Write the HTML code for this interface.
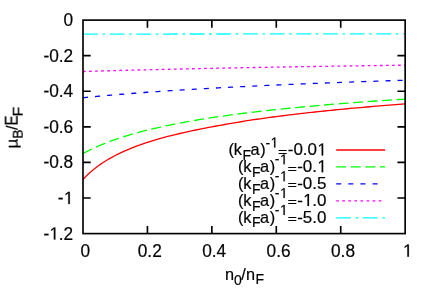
<!DOCTYPE html>
<html><head><meta charset="utf-8"><title>plot</title>
<style>html,body{margin:0;padding:0;background:#fff;}svg{display:block;}text{font-family:"Liberation Sans",sans-serif;fill:#000;font-kerning:none;white-space:pre;}</style></head>
<body>
<svg width="436" height="305" viewBox="0 0 436 305">
<rect x="0" y="0" width="436" height="305" fill="#fff"/>
<path d="M83.00,179.59 L83.81,178.69 L84.61,177.82 L85.42,176.98 L86.22,176.15 L87.03,175.35 L87.83,174.57 L88.64,173.80 L89.44,173.06 L90.25,172.33 L91.05,171.62 L91.86,170.92 L92.66,170.24 L93.47,169.57 L94.28,168.92 L95.08,168.28 L95.89,167.65 L96.69,167.04 L97.50,166.44 L98.30,165.85 L99.11,165.27 L99.91,164.70 L100.72,164.14 L101.52,163.60 L102.33,163.06 L103.13,162.53 L103.94,162.01 L104.75,161.50 L105.55,161.00 L106.36,160.50 L107.16,160.01 L107.97,159.54 L108.77,159.06 L109.58,158.60 L110.38,158.14 L111.19,157.69 L111.99,157.25 L112.80,156.81 L113.60,156.38 L114.41,155.96 L115.22,155.54 L118.44,153.92 L121.66,152.38 L124.88,150.92 L128.10,149.53 L131.32,148.21 L134.54,146.94 L137.77,145.73 L140.99,144.56 L144.21,143.44 L147.43,142.37 L150.65,141.33 L153.87,140.34 L157.09,139.38 L160.32,138.45 L163.54,137.55 L166.76,136.69 L169.98,135.85 L173.20,135.04 L176.42,134.26 L179.65,133.50 L182.87,132.76 L186.09,132.04 L189.31,131.34 L192.53,130.65 L195.75,129.99 L198.97,129.33 L202.20,128.69 L205.42,128.06 L208.64,127.44 L211.86,126.84 L215.08,126.24 L218.30,125.65 L221.52,125.07 L224.75,124.49 L227.97,123.93 L231.19,123.37 L234.41,122.82 L237.63,122.28 L240.85,121.75 L244.07,121.23 L247.30,120.72 L250.52,120.22 L253.74,119.73 L256.96,119.25 L260.18,118.78 L263.40,118.32 L266.63,117.87 L269.85,117.42 L273.07,116.99 L276.29,116.56 L279.51,116.15 L282.73,115.74 L285.95,115.33 L289.18,114.94 L292.40,114.55 L295.62,114.17 L298.84,113.79 L302.06,113.42 L305.28,113.06 L308.50,112.70 L311.73,112.34 L314.95,111.99 L318.17,111.65 L321.39,111.31 L324.61,110.98 L327.83,110.65 L331.06,110.32 L334.28,110.00 L337.50,109.68 L340.72,109.37 L343.94,109.06 L347.16,108.76 L350.38,108.46 L353.61,108.16 L356.83,107.87 L360.05,107.58 L363.27,107.29 L366.49,107.01 L369.71,106.73 L372.94,106.45 L376.16,106.17 L379.38,105.90 L382.60,105.64 L385.82,105.37 L389.04,105.11 L392.26,104.85 L395.49,104.60 L398.71,104.34 L401.93,104.09 L405.15,103.85" fill="none" stroke="#ff0000" stroke-width="1.30"/>
<path d="M83.00,153.54 L83.81,153.10 L84.61,152.67 L85.42,152.24 L86.22,151.82 L87.03,151.40 L87.83,150.99 L88.64,150.58 L89.44,150.18 L90.25,149.79 L91.05,149.40 L91.86,149.01 L92.66,148.63 L93.47,148.25 L94.28,147.88 L95.08,147.51 L95.89,147.15 L96.69,146.79 L97.50,146.43 L98.30,146.08 L99.11,145.74 L99.91,145.39 L100.72,145.05 L101.52,144.72 L102.33,144.39 L103.13,144.06 L103.94,143.73 L104.75,143.41 L105.55,143.10 L106.36,142.78 L107.16,142.47 L107.97,142.16 L108.77,141.86 L109.58,141.56 L110.38,141.26 L111.19,140.96 L111.99,140.67 L112.80,140.38 L113.60,140.09 L114.41,139.81 L115.22,139.53 L118.44,138.43 L121.66,137.37 L124.88,136.35 L128.10,135.36 L131.32,134.41 L134.54,133.49 L137.77,132.60 L140.99,131.74 L144.21,130.91 L147.43,130.10 L150.65,129.31 L153.87,128.55 L157.09,127.80 L160.32,127.08 L163.54,126.38 L166.76,125.70 L169.98,125.03 L173.20,124.38 L176.42,123.75 L179.65,123.13 L182.87,122.53 L186.09,121.94 L189.31,121.37 L192.53,120.81 L195.75,120.26 L198.97,119.72 L202.20,119.20 L205.42,118.68 L208.64,118.18 L211.86,117.69 L215.08,117.20 L218.30,116.73 L221.52,116.27 L224.75,115.81 L227.97,115.37 L231.19,114.93 L234.41,114.50 L237.63,114.08 L240.85,113.67 L244.07,113.26 L247.30,112.86 L250.52,112.47 L253.74,112.08 L256.96,111.70 L260.18,111.33 L263.40,110.96 L266.63,110.60 L269.85,110.25 L273.07,109.90 L276.29,109.56 L279.51,109.22 L282.73,108.89 L285.95,108.56 L289.18,108.24 L292.40,107.92 L295.62,107.60 L298.84,107.30 L302.06,106.99 L305.28,106.69 L308.50,106.40 L311.73,106.10 L314.95,105.82 L318.17,105.53 L321.39,105.25 L324.61,104.98 L327.83,104.70 L331.06,104.43 L334.28,104.17 L337.50,103.91 L340.72,103.65 L343.94,103.39 L347.16,103.14 L350.38,102.89 L353.61,102.64 L356.83,102.40 L360.05,102.16 L363.27,101.92 L366.49,101.69 L369.71,101.46 L372.94,101.23 L376.16,101.00 L379.38,100.78 L382.60,100.56 L385.82,100.34 L389.04,100.12 L392.26,99.91 L395.49,99.69 L398.71,99.49 L401.93,99.28 L405.15,99.07" fill="none" stroke="#00ff00" stroke-width="1.30" stroke-dasharray="10.00,4.55"/>
<path d="M83.00,97.75 L83.81,97.67 L84.61,97.58 L85.42,97.50 L86.22,97.42 L87.03,97.35 L87.83,97.27 L88.64,97.19 L89.44,97.11 L90.25,97.03 L91.05,96.95 L91.86,96.88 L92.66,96.80 L93.47,96.72 L94.28,96.65 L95.08,96.57 L95.89,96.50 L96.69,96.42 L97.50,96.35 L98.30,96.27 L99.11,96.20 L99.91,96.12 L100.72,96.05 L101.52,95.98 L102.33,95.90 L103.13,95.83 L103.94,95.76 L104.75,95.69 L105.55,95.61 L106.36,95.54 L107.16,95.47 L107.97,95.40 L108.77,95.33 L109.58,95.26 L110.38,95.19 L111.19,95.12 L111.99,95.05 L112.80,94.98 L113.60,94.92 L114.41,94.85 L115.22,94.78 L118.44,94.51 L121.66,94.25 L124.88,93.98 L128.10,93.73 L131.32,93.48 L134.54,93.23 L137.77,92.98 L140.99,92.74 L144.21,92.50 L147.43,92.27 L150.65,92.04 L153.87,91.81 L157.09,91.59 L160.32,91.37 L163.54,91.15 L166.76,90.94 L169.98,90.72 L173.20,90.51 L176.42,90.31 L179.65,90.11 L182.87,89.91 L186.09,89.71 L189.31,89.51 L192.53,89.32 L195.75,89.13 L198.97,88.94 L202.20,88.75 L205.42,88.57 L208.64,88.39 L211.86,88.21 L215.08,88.03 L218.30,87.86 L221.52,87.69 L224.75,87.51 L227.97,87.35 L231.19,87.18 L234.41,87.01 L237.63,86.85 L240.85,86.69 L244.07,86.53 L247.30,86.37 L250.52,86.22 L253.74,86.06 L256.96,85.91 L260.18,85.76 L263.40,85.61 L266.63,85.46 L269.85,85.31 L273.07,85.17 L276.29,85.02 L279.51,84.88 L282.73,84.74 L285.95,84.60 L289.18,84.46 L292.40,84.33 L295.62,84.19 L298.84,84.06 L302.06,83.92 L305.28,83.79 L308.50,83.66 L311.73,83.53 L314.95,83.41 L318.17,83.28 L321.39,83.15 L324.61,83.03 L327.83,82.91 L331.06,82.78 L334.28,82.66 L337.50,82.54 L340.72,82.42 L343.94,82.31 L347.16,82.19 L350.38,82.07 L353.61,81.96 L356.83,81.84 L360.05,81.73 L363.27,81.62 L366.49,81.51 L369.71,81.40 L372.94,81.29 L376.16,81.18 L379.38,81.07 L382.60,80.96 L385.82,80.86 L389.04,80.75 L392.26,80.65 L395.49,80.55 L398.71,80.44 L401.93,80.34 L405.15,80.24" fill="none" stroke="#0000ff" stroke-width="1.30" stroke-dasharray="5.00,7.12"/>
<path d="M83.00,71.53 L83.81,71.50 L84.61,71.48 L85.42,71.45 L86.22,71.43 L87.03,71.40 L87.83,71.38 L88.64,71.35 L89.44,71.33 L90.25,71.31 L91.05,71.28 L91.86,71.26 L92.66,71.23 L93.47,71.21 L94.28,71.19 L95.08,71.16 L95.89,71.14 L96.69,71.12 L97.50,71.09 L98.30,71.07 L99.11,71.05 L99.91,71.02 L100.72,71.00 L101.52,70.98 L102.33,70.95 L103.13,70.93 L103.94,70.91 L104.75,70.89 L105.55,70.86 L106.36,70.84 L107.16,70.82 L107.97,70.79 L108.77,70.77 L109.58,70.75 L110.38,70.73 L111.19,70.71 L111.99,70.68 L112.80,70.66 L113.60,70.64 L114.41,70.62 L115.22,70.59 L118.44,70.51 L121.66,70.42 L124.88,70.34 L128.10,70.25 L131.32,70.17 L134.54,70.08 L137.77,70.00 L140.99,69.92 L144.21,69.84 L147.43,69.76 L150.65,69.68 L153.87,69.61 L157.09,69.53 L160.32,69.45 L163.54,69.38 L166.76,69.30 L169.98,69.23 L173.20,69.16 L176.42,69.08 L179.65,69.01 L182.87,68.94 L186.09,68.87 L189.31,68.80 L192.53,68.73 L195.75,68.66 L198.97,68.59 L202.20,68.53 L205.42,68.46 L208.64,68.39 L211.86,68.33 L215.08,68.26 L218.30,68.20 L221.52,68.13 L224.75,68.07 L227.97,68.01 L231.19,67.94 L234.41,67.88 L237.63,67.82 L240.85,67.76 L244.07,67.70 L247.30,67.64 L250.52,67.58 L253.74,67.52 L256.96,67.46 L260.18,67.40 L263.40,67.35 L266.63,67.29 L269.85,67.23 L273.07,67.18 L276.29,67.12 L279.51,67.06 L282.73,67.01 L285.95,66.96 L289.18,66.90 L292.40,66.85 L295.62,66.79 L298.84,66.74 L302.06,66.69 L305.28,66.64 L308.50,66.58 L311.73,66.53 L314.95,66.48 L318.17,66.43 L321.39,66.38 L324.61,66.33 L327.83,66.28 L331.06,66.23 L334.28,66.18 L337.50,66.13 L340.72,66.08 L343.94,66.04 L347.16,65.99 L350.38,65.94 L353.61,65.89 L356.83,65.85 L360.05,65.80 L363.27,65.75 L366.49,65.71 L369.71,65.66 L372.94,65.62 L376.16,65.57 L379.38,65.53 L382.60,65.48 L385.82,65.44 L389.04,65.39 L392.26,65.35 L395.49,65.31 L398.71,65.26 L401.93,65.22 L405.15,65.18" fill="none" stroke="#ff00ff" stroke-width="1.30" stroke-dasharray="2.72,3.34"/>
<path d="M83.00,34.10 L83.81,34.10 L84.61,34.10 L85.42,34.10 L86.22,34.10 L87.03,34.10 L87.83,34.10 L88.64,34.10 L89.44,34.10 L90.25,34.10 L91.05,34.10 L91.86,34.09 L92.66,34.09 L93.47,34.09 L94.28,34.09 L95.08,34.09 L95.89,34.09 L96.69,34.09 L97.50,34.09 L98.30,34.09 L99.11,34.09 L99.91,34.09 L100.72,34.09 L101.52,34.09 L102.33,34.09 L103.13,34.08 L103.94,34.08 L104.75,34.08 L105.55,34.08 L106.36,34.08 L107.16,34.08 L107.97,34.08 L108.77,34.08 L109.58,34.08 L110.38,34.08 L111.19,34.08 L111.99,34.08 L112.80,34.08 L113.60,34.08 L114.41,34.07 L115.22,34.07 L118.44,34.07 L121.66,34.07 L124.88,34.07 L128.10,34.06 L131.32,34.06 L134.54,34.06 L137.77,34.05 L140.99,34.05 L144.21,34.05 L147.43,34.05 L150.65,34.04 L153.87,34.04 L157.09,34.04 L160.32,34.04 L163.54,34.03 L166.76,34.03 L169.98,34.03 L173.20,34.02 L176.42,34.02 L179.65,34.02 L182.87,34.02 L186.09,34.01 L189.31,34.01 L192.53,34.01 L195.75,34.00 L198.97,34.00 L202.20,34.00 L205.42,34.00 L208.64,33.99 L211.86,33.99 L215.08,33.99 L218.30,33.99 L221.52,33.98 L224.75,33.98 L227.97,33.98 L231.19,33.97 L234.41,33.97 L237.63,33.97 L240.85,33.97 L244.07,33.96 L247.30,33.96 L250.52,33.96 L253.74,33.96 L256.96,33.95 L260.18,33.95 L263.40,33.95 L266.63,33.94 L269.85,33.94 L273.07,33.94 L276.29,33.94 L279.51,33.93 L282.73,33.93 L285.95,33.93 L289.18,33.93 L292.40,33.92 L295.62,33.92 L298.84,33.92 L302.06,33.91 L305.28,33.91 L308.50,33.91 L311.73,33.91 L314.95,33.90 L318.17,33.90 L321.39,33.90 L324.61,33.90 L327.83,33.89 L331.06,33.89 L334.28,33.89 L337.50,33.88 L340.72,33.88 L343.94,33.88 L347.16,33.88 L350.38,33.87 L353.61,33.87 L356.83,33.87 L360.05,33.87 L363.27,33.86 L366.49,33.86 L369.71,33.86 L372.94,33.85 L376.16,33.85 L379.38,33.85 L382.60,33.85 L385.82,33.84 L389.04,33.84 L392.26,33.84 L395.49,33.84 L398.71,33.83 L401.93,33.83 L405.15,33.83" fill="none" stroke="#00ffff" stroke-width="1.30" stroke-dasharray="14.85,4.55,2.72,4.55"/>
<path d="M336.20,150.00 L385.10,150.00" fill="none" stroke="#ff0000" stroke-width="1.30"/>
<path d="M336.20,166.95 L385.10,166.95" fill="none" stroke="#00ff00" stroke-width="1.30" stroke-dasharray="10.00,4.55"/>
<path d="M336.20,183.90 L384.40,183.90" fill="none" stroke="#0000ff" stroke-width="1.30" stroke-dasharray="5.00,7.12"/>
<path d="M336.20,200.85 L384.40,200.85" fill="none" stroke="#ff00ff" stroke-width="1.30" stroke-dasharray="2.72,3.34"/>
<path d="M336.20,217.80 L385.10,217.80" fill="none" stroke="#00ffff" stroke-width="1.30" stroke-dasharray="14.85,4.55,2.72,4.55"/>
<rect x="83.00" y="20.10" width="322.15" height="213.50" fill="none" stroke="#000" stroke-width="1.65"/>
<path d="M147.43,233.60 V225.90 M147.43,20.10 V27.80 M211.86,233.60 V225.90 M211.86,20.10 V27.80 M276.29,233.60 V225.90 M276.29,20.10 V27.80 M340.72,233.60 V225.90 M340.72,20.10 V27.80 M83.00,55.68 H90.70 M405.15,55.68 H397.45 M83.00,91.27 H90.70 M405.15,91.27 H397.45 M83.00,126.85 H90.70 M405.15,126.85 H397.45 M83.00,162.43 H90.70 M405.15,162.43 H397.45 M83.00,198.02 H90.70 M405.15,198.02 H397.45" fill="none" stroke="#000" stroke-width="1.65"/>
<g style="opacity:0.999" fill="#000" stroke="#000" stroke-width="0.20">
<text transform="translate(63.58,26.10) scale(1.0000,1.0200)" font-size="17.30">0</text>
<text transform="translate(43.39,61.68) scale(1.0000,1.0200)" font-size="17.30">-0.2</text>
<text transform="translate(43.39,97.27) scale(1.0000,1.0200)" font-size="17.30">-0.4</text>
<text transform="translate(43.39,132.85) scale(1.0000,1.0200)" font-size="17.30">-0.6</text>
<text transform="translate(43.39,168.43) scale(1.0000,1.0200)" font-size="17.30">-0.8</text>
<text transform="translate(57.82,204.02) scale(1.0000,1.0200)" font-size="17.30">-</text>
<path d="M515 0V1237L197 1010V1180L530 1409H696V0Z" vector-effect="non-scaling-stroke" transform="translate(63.92,204.02) scale(0.00845,-0.00862)"/>
<text transform="translate(43.39,239.60) scale(1.0000,1.0200)" font-size="17.30">-</text>
<path d="M515 0V1237L197 1010V1180L530 1409H696V0Z" vector-effect="non-scaling-stroke" transform="translate(49.50,239.60) scale(0.00845,-0.00862)"/>
<text transform="translate(58.77,239.60) scale(1.0000,1.0200)" font-size="17.30">.2</text>
<text transform="translate(80.49,256.70) scale(1.0000,1.0200)" font-size="17.30">0</text>
<text transform="translate(137.71,256.70) scale(1.0000,1.0200)" font-size="17.30">0.2</text>
<text transform="translate(202.14,256.70) scale(1.0000,1.0200)" font-size="17.30">0.4</text>
<text transform="translate(266.57,256.70) scale(1.0000,1.0200)" font-size="17.30">0.6</text>
<text transform="translate(331.00,256.70) scale(1.0000,1.0200)" font-size="17.30">0.8</text>
<path d="M515 0V1237L197 1010V1180L530 1409H696V0Z" vector-effect="non-scaling-stroke" transform="translate(402.99,256.70) scale(0.00845,-0.00862)"/>
<text transform="translate(225.02,279.90) scale(0.9600,1.0000)" font-size="17.00">n</text>
<text transform="translate(234.05,285.00) scale(1.0000,1.0400)" font-size="14.00">0</text>
<text transform="translate(241.20,279.90) scale(0.9600,1.0000)" font-size="17.00">/</text>
<text transform="translate(246.12,279.90) scale(0.9600,1.0000)" font-size="17.00">n</text>
<text transform="translate(255.55,284.30) scale(1.0000,1.0600)" font-size="14.00">F</text>
<g transform="translate(17.7,0) rotate(-90)">
<text transform="translate(-148.46,0.00) scale(1.0000,1.0000)" font-size="17.00">µ</text>
<text transform="translate(-138.65,4.70) scale(1.0000,1.0600)" font-size="14.00">B</text>
<text transform="translate(-130.00,0.00) scale(0.9600,1.0000)" font-size="17.00">/</text>
<text transform="translate(-125.44,0.00) scale(0.8900,1.0700)" font-size="17.00">E</text>
<text transform="translate(-116.42,4.70) scale(1.1500,1.0600)" font-size="14.00">F</text>
</g>
<text transform="translate(228.49,155.40) scale(0.9600,1.0000)" font-size="17.00">(</text>
<text transform="translate(233.80,155.40) scale(0.9600,1.0000)" font-size="17.00">k</text>
<text transform="translate(242.55,160.00) scale(1.0000,1.0600)" font-size="14.00">F</text>
<text transform="translate(250.51,155.40) scale(0.9600,1.0000)" font-size="17.00">a</text>
<text transform="translate(260.30,155.40) scale(0.9600,1.0000)" font-size="17.00">)</text>
<text transform="translate(265.38,147.50) scale(1.0000,1.0000)" font-size="14.00">-</text>
<path d="M515 0V1237L197 1010V1180L530 1409H696V0Z" vector-effect="non-scaling-stroke" transform="translate(270.58,147.50) scale(0.00684,-0.00704)"/>
<text transform="translate(278.11,155.75) scale(0.9500,0.7200)" font-size="17.00">=</text>
<text transform="translate(287.75,155.40) scale(1.0000,1.0200)" font-size="17.00">-0.0</text>
<path d="M515 0V1237L197 1010V1180L530 1409H696V0Z" vector-effect="non-scaling-stroke" transform="translate(317.39,155.40) scale(0.00830,-0.00847)"/>
<text transform="translate(237.89,172.25) scale(0.9600,1.0000)" font-size="17.00">(</text>
<text transform="translate(243.20,172.25) scale(0.9600,1.0000)" font-size="17.00">k</text>
<text transform="translate(251.95,176.85) scale(1.0000,1.0600)" font-size="14.00">F</text>
<text transform="translate(259.91,172.25) scale(0.9600,1.0000)" font-size="17.00">a</text>
<text transform="translate(269.70,172.25) scale(0.9600,1.0000)" font-size="17.00">)</text>
<text transform="translate(274.78,164.35) scale(1.0000,1.0000)" font-size="14.00">-</text>
<path d="M515 0V1237L197 1010V1180L530 1409H696V0Z" vector-effect="non-scaling-stroke" transform="translate(279.98,164.35) scale(0.00684,-0.00704)"/>
<text transform="translate(287.51,172.60) scale(0.9500,0.7200)" font-size="17.00">=</text>
<text transform="translate(297.21,172.25) scale(1.0000,1.0200)" font-size="17.00">-0.</text>
<path d="M515 0V1237L197 1010V1180L530 1409H696V0Z" vector-effect="non-scaling-stroke" transform="translate(317.39,172.25) scale(0.00830,-0.00847)"/>
<text transform="translate(237.89,189.10) scale(0.9600,1.0000)" font-size="17.00">(</text>
<text transform="translate(243.20,189.10) scale(0.9600,1.0000)" font-size="17.00">k</text>
<text transform="translate(251.95,193.70) scale(1.0000,1.0600)" font-size="14.00">F</text>
<text transform="translate(259.91,189.10) scale(0.9600,1.0000)" font-size="17.00">a</text>
<text transform="translate(269.70,189.10) scale(0.9600,1.0000)" font-size="17.00">)</text>
<text transform="translate(274.78,181.20) scale(1.0000,1.0000)" font-size="14.00">-</text>
<path d="M515 0V1237L197 1010V1180L530 1409H696V0Z" vector-effect="non-scaling-stroke" transform="translate(279.98,181.20) scale(0.00684,-0.00704)"/>
<text transform="translate(287.51,189.45) scale(0.9500,0.7200)" font-size="17.00">=</text>
<text transform="translate(297.21,189.10) scale(1.0000,1.0200)" font-size="17.00">-0.5</text>
<text transform="translate(237.89,205.95) scale(0.9600,1.0000)" font-size="17.00">(</text>
<text transform="translate(243.20,205.95) scale(0.9600,1.0000)" font-size="17.00">k</text>
<text transform="translate(251.95,210.55) scale(1.0000,1.0600)" font-size="14.00">F</text>
<text transform="translate(259.91,205.95) scale(0.9600,1.0000)" font-size="17.00">a</text>
<text transform="translate(269.70,205.95) scale(0.9600,1.0000)" font-size="17.00">)</text>
<text transform="translate(274.78,198.05) scale(1.0000,1.0000)" font-size="14.00">-</text>
<path d="M515 0V1237L197 1010V1180L530 1409H696V0Z" vector-effect="non-scaling-stroke" transform="translate(279.98,198.05) scale(0.00684,-0.00704)"/>
<text transform="translate(287.51,206.30) scale(0.9500,0.7200)" font-size="17.00">=</text>
<text transform="translate(297.21,205.95) scale(1.0000,1.0200)" font-size="17.00">-</text>
<path d="M515 0V1237L197 1010V1180L530 1409H696V0Z" vector-effect="non-scaling-stroke" transform="translate(303.21,205.95) scale(0.00830,-0.00847)"/>
<text transform="translate(312.32,205.95) scale(1.0000,1.0200)" font-size="17.00">.0</text>
<text transform="translate(237.89,222.80) scale(0.9600,1.0000)" font-size="17.00">(</text>
<text transform="translate(243.20,222.80) scale(0.9600,1.0000)" font-size="17.00">k</text>
<text transform="translate(251.95,227.40) scale(1.0000,1.0600)" font-size="14.00">F</text>
<text transform="translate(259.91,222.80) scale(0.9600,1.0000)" font-size="17.00">a</text>
<text transform="translate(269.70,222.80) scale(0.9600,1.0000)" font-size="17.00">)</text>
<text transform="translate(274.78,214.90) scale(1.0000,1.0000)" font-size="14.00">-</text>
<path d="M515 0V1237L197 1010V1180L530 1409H696V0Z" vector-effect="non-scaling-stroke" transform="translate(279.98,214.90) scale(0.00684,-0.00704)"/>
<text transform="translate(287.51,223.15) scale(0.9500,0.7200)" font-size="17.00">=</text>
<text transform="translate(297.21,222.80) scale(1.0000,1.0200)" font-size="17.00">-5.0</text>
</g>
</svg></body></html>
